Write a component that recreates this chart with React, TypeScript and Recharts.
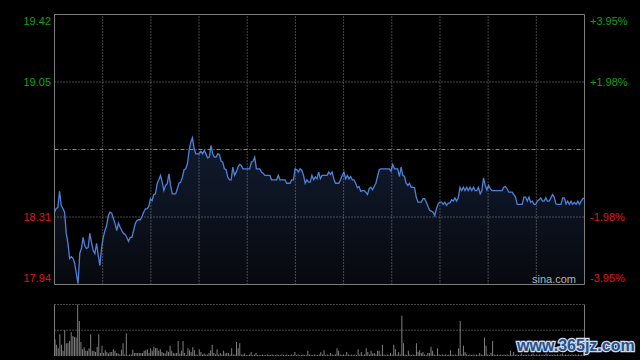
import React from 'react';
import {
  ComposedChart,
  Area,
  XAxis,
  YAxis,
  ReferenceLine,
  BarChart,
  Bar,
} from 'recharts';

// ---- price series (intraday, one value per step) ----
const prices: number[] = [
  // morning, opening dip and recovery
  18.336, 18.357, 18.362, 18.451, 18.373, 18.357, 18.336, 18.220, 18.165, 18.083,
  18.093, 18.083, 18.055, 18.000, 17.945, 18.110, 18.137, 18.198, 18.154, 18.137,
  18.143, 18.220, 18.170, 18.126, 18.110, 18.165, 18.099, 18.044, 18.143, 18.198,
  18.236, 18.263, 18.318, 18.336, 18.331, 18.302, 18.274, 18.236, 18.276, 18.254,
  18.236, 18.220, 18.214, 18.198, 18.177, 18.198, 18.198, 18.236, 18.274, 18.291,
  18.295, 18.295, 18.313, 18.336, 18.355, 18.355, 18.368, 18.410, 18.400, 18.433,
  18.437, 18.492, 18.514, 18.538, 18.501, 18.455, 18.483, 18.492, 18.547, 18.483,
  18.437, 18.437, 18.437, 18.465, 18.495, 18.501, 18.528, 18.569, 18.574, 18.602,
  18.675,
  // peak and drift
  18.720, 18.744, 18.684, 18.656, 18.656, 18.656, 18.671, 18.656, 18.675, 18.656,
  18.634, 18.638, 18.702, 18.656, 18.638, 18.638, 18.656, 18.653, 18.616, 18.610,
  18.574, 18.569, 18.528, 18.514, 18.514, 18.583, 18.538, 18.556, 18.583, 18.598,
  18.592, 18.574, 18.574, 18.574, 18.574, 18.574, 18.610, 18.616, 18.638, 18.574,
  18.574, 18.574, 18.556, 18.550, 18.538, 18.538, 18.538, 18.538, 18.514, 18.514,
  18.514, 18.514, 18.538, 18.514, 18.514, 18.514, 18.514, 18.495, 18.495, 18.495,
  18.514, 18.514, 18.574, 18.569, 18.556, 18.574, 18.565, 18.538, 18.495, 18.514,
  18.501, 18.501, 18.538, 18.514, 18.530, 18.519, 18.556, 18.520,
  // afternoon
  18.538, 18.538, 18.538, 18.538, 18.556, 18.543, 18.556, 18.519, 18.495, 18.495,
  18.495, 18.514, 18.538, 18.556, 18.519, 18.538, 18.519, 18.532, 18.514, 18.514,
  18.495, 18.470, 18.477, 18.451, 18.455, 18.455, 18.446, 18.433, 18.465, 18.473,
  18.459, 18.477, 18.495, 18.532, 18.569, 18.574, 18.574, 18.574, 18.574, 18.574,
  18.574, 18.561, 18.598, 18.574, 18.574, 18.574, 18.532, 18.583, 18.538, 18.532,
  18.495, 18.483, 18.495, 18.473, 18.473, 18.470, 18.419, 18.391, 18.391, 18.391,
  18.410, 18.410, 18.391, 18.368, 18.346, 18.342, 18.336, 18.318, 18.355, 18.382,
  18.391, 18.391, 18.379, 18.391, 18.373, 18.386, 18.386, 18.404,
  // close
  18.397, 18.415, 18.397, 18.415, 18.473, 18.455, 18.473, 18.455, 18.473, 18.455,
  18.473, 18.455, 18.473, 18.455, 18.455, 18.473, 18.437, 18.455, 18.525, 18.483,
  18.459, 18.483, 18.465, 18.455, 18.455, 18.455, 18.455, 18.455, 18.455, 18.455,
  18.473, 18.477, 18.465, 18.446, 18.446, 18.446, 18.433, 18.419, 18.379, 18.379,
  18.379, 18.379, 18.419, 18.419, 18.397, 18.419, 18.391, 18.397, 18.379, 18.379,
  18.397, 18.404, 18.415, 18.397, 18.397, 18.415, 18.397, 18.397, 18.415, 18.433,
  18.419, 18.382, 18.379, 18.379, 18.379, 18.415, 18.415, 18.382, 18.397, 18.379,
  18.397, 18.379, 18.391, 18.379, 18.397, 18.379, 18.397, 18.410, 18.415,
];

// ---- volume series (relative to the day's largest bar) ----
const volumes: number[] = [
  0.32, 0.22, 0.15, 0.42, 0.22, 0.10, 0.50, 0.25, 0.25, 0.29,
  0.46, 0.39, 0.37, 0.36, 1.00, 0.68, 0.27, 0.13, 0.17, 0.10,
  0.10, 0.15, 0.42, 0.10, 0.10, 0.08, 0.18, 0.42, 0.06, 0.20,
  0.06, 0.11, 0.08, 0.05, 0.08, 0.08, 0.13, 0.10, 0.06, 0.05,
  0.03, 0.12, 0.25, 0.03, 0.44, 0.02, 0.03, 0.03, 0.12, 0.06,
  0.06, 0.06, 0.06, 0.06, 0.06, 0.10, 0.11, 0.13, 0.06, 0.15,
  0.10, 0.18, 0.15, 0.15, 0.10, 0.13, 0.08, 0.06, 0.05, 0.10,
  0.08, 0.20, 0.10, 0.06, 0.05, 0.06, 0.29, 0.05, 0.10, 0.29,
  0.06, 0.02, 0.15, 0.11, 0.08, 0.17, 0.11, 0.03, 0.02, 0.13,
  0.08, 0.03, 0.05, 0.03, 0.03, 0.06, 0.11, 0.22, 0.06, 0.03,
  0.13, 0.03, 0.06, 0.03, 0.10, 0.05, 0.06, 0.06, 0.03, 0.15,
  0.03, 0.03, 0.27, 0.15, 0.25, 0.03, 0.03, 0.05, 0.02, 0.02,
  0.03, 0.08, 0.02, 0.03, 0.06, 0.02, 0.02, 0.02, 0.03, 0.02,
  0.02,
  0.03, 0.02, 0.02, 0.03, 0.02, 0.02, 0.03, 0.02, 0.02, 0.03,
  0.02, 0.02, 0.03, 0.02, 0.02, 0.03, 0.02, 0.08, 0.02, 0.03,
  0.02, 0.02, 0.03, 0.02, 0.02, 0.10, 0.03, 0.02, 0.02, 0.03,
  0.02, 0.02, 0.03, 0.08,
  0.03, 0.11, 0.02, 0.03, 0.02, 0.06, 0.03, 0.02, 0.03, 0.15,
  0.10, 0.03, 0.02, 0.03, 0.02, 0.08, 0.03, 0.02, 0.03, 0.02,
  0.03, 0.02, 0.13, 0.03, 0.08, 0.02, 0.03, 0.15, 0.08, 0.03,
  0.10, 0.05, 0.06, 0.03, 0.10, 0.10, 0.03, 0.22, 0.03, 0.02,
  0.03, 0.02, 0.06, 0.03, 0.22, 0.13, 0.03, 0.08, 0.03, 0.78,
  0.25, 0.03, 0.02, 0.10, 0.03, 0.02, 0.03, 0.02, 0.25, 0.08,
  0.11, 0.06, 0.08, 0.03, 0.02, 0.06, 0.06, 0.18, 0.10, 0.03,
  0.02, 0.15, 0.03, 0.02, 0.03, 0.02, 0.03, 0.02, 0.03, 0.11,
  0.03, 0.02, 0.03, 0.02, 0.15, 0.68, 0.03, 0.20, 0.08, 0.03,
  0.02, 0.03, 0.02, 0.03, 0.02, 0.03, 0.02, 0.06, 0.03, 0.02,
  0.36, 0.20, 0.03, 0.02, 0.06, 0.29, 0.03, 0.02, 0.03, 0.02,
  0.03, 0.02, 0.03, 0.02, 0.03, 0.02, 0.10, 0.03, 0.08, 0.02,
  0.03, 0.02, 0.03, 0.05, 0.02, 0.03, 0.02, 0.03, 0.02, 0.03,
  0.05, 0.02, 0.03, 0.02, 0.03, 0.02, 0.03, 0.02, 0.05, 0.03,
  0.02, 0.03, 0.02, 0.03, 0.02, 0.03, 0.02, 0.03, 0.05, 0.02,
  0.03, 0.02, 0.03, 0.02, 0.03, 0.02, 0.03, 0.02, 0.03, 0.02,
  0.03, 0.02,
];

// ---- axis ticks ----
const prevClose = 18.68;
const priceMin = 17.94;
const priceMax = 19.42;
const priceTicks = [17.94, 18.31, 19.05, 19.42];
const priceTickLabels = ['17.94', '18.31', '19.05', '19.42'];
const pctTickLabels = ['-3.95%', '-1.98%', '+1.98%', '+3.95%'];
const timeDivisions = 11;

const priceData = prices.map((p, i) => ({ i, p }));
const volumeData = volumes.map((v, i) => ({ i, v }));
const lastIdx = prices.length - 1;
const vGrid = Array.from({ length: timeDivisions - 1 }, (_, k) => (lastIdx * (k + 1)) / timeDivisions);

const FONT = '"Liberation Sans", Arial, Helvetica, sans-serif';
const GREEN = '#12a012';
const RED = '#e01414';
const GRID = '#8a8a8a';
const BORDER = '#7c7c7c';
const LINE = '#4c82dc';

const tickDy = (v: number) => (v === priceMax ? 10 : v === priceMin ? -2.5 : 4);

const LeftTick = (props: any) => {
  const { x, y, payload } = props;
  const v = payload.value as number;
  const idx = priceTicks.indexOf(v);
  return (
    <text x={x} y={y + tickDy(v)} textAnchor="end" fill={v > prevClose ? GREEN : RED} fontSize={11} fontFamily={FONT}>
      {priceTickLabels[idx]}
    </text>
  );
};

const RightTick = (props: any) => {
  const { x, y, payload } = props;
  const v = payload.value as number;
  const idx = priceTicks.indexOf(v);
  return (
    <text x={x} y={y + tickDy(v)} textAnchor="start" fill={v > prevClose ? GREEN : RED} fontSize={11} fontFamily={FONT}>
      {pctTickLabels[idx]}
    </text>
  );
};

export default function App() {
  return (
    <div style={{ position: 'absolute', left: 0, top: 0, width: 640, height: 360, background: '#000', overflow: 'hidden' }}>
      <div style={{ position: 'absolute', left: 0, top: 0 }}>
        <ComposedChart width={640} height={300} data={priceData} margin={{ top: 14.5, right: 0, bottom: 15.5, left: 0 }}>
          <defs>
            <linearGradient id="priceFill" x1="0" y1="0" x2="0" y2="1">
              <stop offset="0%" stopColor="#111b30" />
              <stop offset="100%" stopColor="#07090e" />
            </linearGradient>
          </defs>
          <XAxis dataKey="i" type="number" domain={[0, lastIdx]} hide />
          <YAxis
            yAxisId="left"
            domain={[priceMin, priceMax]}
            ticks={priceTicks}
            interval={0}
            width={54.5}
            tickSize={0}
            tickMargin={3.5}
            tickLine={false}
            axisLine={{ stroke: BORDER }}
            tick={<LeftTick />}
            allowDataOverflow
          />
          <YAxis
            yAxisId="right"
            orientation="right"
            domain={[priceMin, priceMax]}
            ticks={priceTicks}
            interval={0}
            width={55.5}
            tickSize={0}
            tickMargin={5.5}
            tickLine={false}
            axisLine={{ stroke: BORDER }}
            tick={<RightTick />}
            allowDataOverflow
          />
          {vGrid.map((gx) => (
            <ReferenceLine key={`vg-${gx}`} yAxisId="left" x={gx} stroke={GRID} strokeDasharray="1 2" />
          ))}
          <ReferenceLine yAxisId="left" y={19.05} stroke={GRID} strokeDasharray="1 2" />
          <ReferenceLine yAxisId="left" y={18.31} stroke={GRID} strokeDasharray="1 2" />
          <ReferenceLine yAxisId="left" y={prevClose} stroke={GRID} strokeDasharray="4 2 1 2" />
          <ReferenceLine yAxisId="left" y={priceMax} stroke={BORDER} />
          <ReferenceLine yAxisId="left" y={priceMin} stroke={BORDER} />
          <Area
            yAxisId="left"
            type="linear"
            dataKey="p"
            stroke={LINE}
            strokeWidth={1.3}
            fill="url(#priceFill)"
            fillOpacity={1}
            dot={false}
            activeDot={false}
            isAnimationActive={false}
          />
        </ComposedChart>
      </div>
      <div style={{ position: 'absolute', left: 0, top: 300 }}>
        <BarChart width={640} height={60} data={volumeData} margin={{ top: 4.5, right: 0, bottom: 4, left: 0 }} barCategoryGap={0}>
          <XAxis dataKey="i" hide />
          <YAxis yAxisId="l" domain={[0, 1]} width={54.5} tick={false} tickLine={false} axisLine={{ stroke: BORDER }} />
          <YAxis yAxisId="r" orientation="right" domain={[0, 1]} width={55.5} tick={false} tickLine={false} axisLine={{ stroke: BORDER }} />
          <ReferenceLine yAxisId="l" y={1} stroke={GRID} strokeDasharray="1 2" />
          <ReferenceLine yAxisId="l" y={0.5} stroke={GRID} strokeDasharray="1 2" />
          <Bar yAxisId="l" dataKey="v" fill="#808080" barSize={1} isAnimationActive={false} />
        </BarChart>
      </div>
      <svg width={640} height={360} style={{ position: 'absolute', left: 0, top: 0, pointerEvents: 'none' }}>
        <text x={532} y={283} fill="#b4b4b4" fontSize={11} fontFamily={FONT}>sina.com</text>
        <text
          x={517}
          y={351}
          fill="#24508f"
          stroke="#d5dbe6"
          strokeWidth={2.5}
          paintOrder="stroke"
          fontSize={16}
          fontWeight="bold"
          fontFamily={FONT}
        >
          www.365jz.com
        </text>
      </svg>
    </div>
  );
}
